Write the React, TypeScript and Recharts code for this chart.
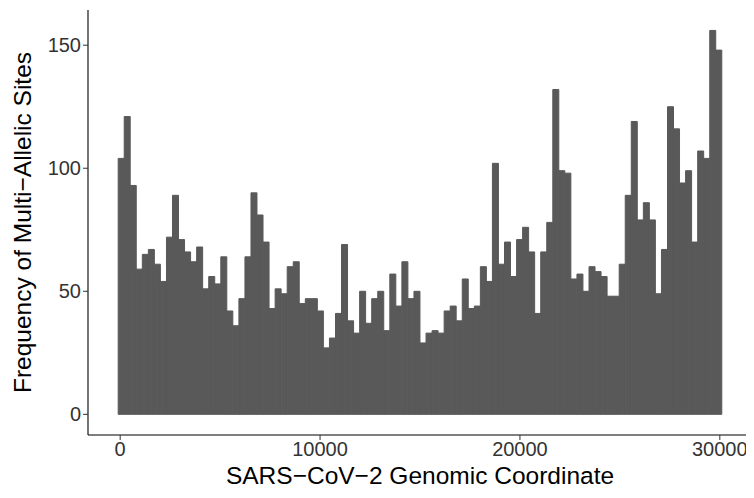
import { BarChart, Bar, XAxis, YAxis, Label } from "recharts";

// histogram: 100 bins of ~302 bp starting at -100
const binStart = -100;
const binWidth = 302;

const counts = [
  104, 121, 93, 59, 65, 67, 61, 54, 72, 89,
  71, 66, 62, 68, 51, 56, 53, 64, 42, 36,
  47, 64, 90, 81, 70, 43, 51, 49, 60, 62,
  45, 47, 47, 42, 27, 31, 41, 69, 38, 33,
  50, 37, 47, 50, 34, 57, 44, 62, 47, 50,
  29, 33, 34, 33, 42, 44, 38, 55, 43, 44,
  60, 54, 102, 61, 70, 56, 71, 76, 66, 41,
  66, 78, 132, 99, 98, 55, 57, 50, 60, 58,
  56, 48, 48, 61, 89, 119, 79, 86, 79, 49,
  67, 125, 116, 94, 99, 70, 107, 104, 156, 148,
];

const xTicks = [0, 10000, 20000, 30000];
const yTicks = [0, 50, 100, 150];

const data = counts.map((n, i) => ({
  pos: binStart + binWidth * (i + 0.5),
  count: n,
}));

const font = "'Liberation Sans', Arial, Helvetica, sans-serif";
const tickStyle = { fontSize: 20, fill: "#333", fontFamily: font };

export default function App() {
  return (
    <BarChart
      width={746}
      height={490}
      data={data}
      margin={{ top: 2, right: 2, left: 0, bottom: 0 }}
      barCategoryGap={0}
      barGap={0}
    >
      <XAxis
        dataKey="pos"
        type="number"
        domain={[-1610, 31610]}
        ticks={xTicks}
        height={63}
        tick={tickStyle}
        tickSize={5}
        tickLine={{ stroke: "#333" }}
        axisLine={{ stroke: "#000", strokeWidth: 1.1 }}
      >
        <Label
          value="SARS−CoV−2 Genomic Coordinate"
          position="insideBottom"
          offset={14}
          style={{ fontSize: 24.5, fill: "#000", fontFamily: font }}
        />
      </XAxis>
      <YAxis
        type="number"
        domain={[-8.4, 164.3]}
        ticks={yTicks}
        width={80}
        tick={tickStyle}
        tickSize={5}
        tickLine={{ stroke: "#333" }}
        axisLine={{ stroke: "#000", strokeWidth: 1.1 }}
      >
        <Label
          value="Frequency of Multi−Allelic Sites"
          angle={-90}
          position="insideLeft"
          offset={14}
          style={{ fontSize: 24.5, fill: "#000", fontFamily: font, textAnchor: "middle" }}
        />
      </YAxis>
      <Bar
        dataKey="count"
        fill="#595959"
        stroke="#595959"
        strokeWidth={1}
        isAnimationActive={false}
      />
    </BarChart>
  );
}
